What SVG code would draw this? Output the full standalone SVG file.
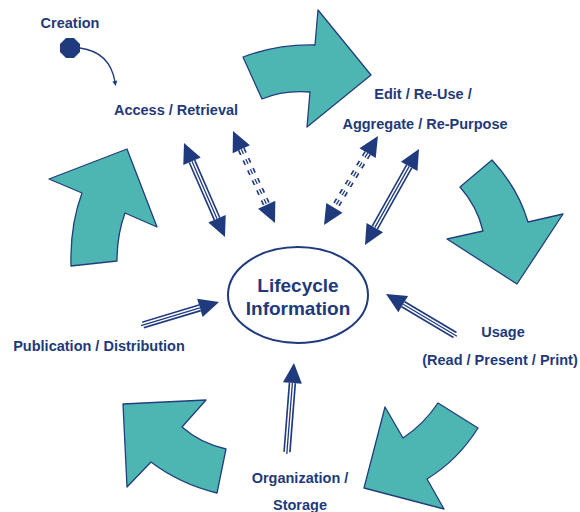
<svg xmlns="http://www.w3.org/2000/svg" width="580" height="512" viewBox="0 0 580 512">
<style>
.lbl{font-family:"Liberation Sans",Arial,sans-serif;font-weight:bold;font-size:14.5px;fill:#1F3A7A;text-anchor:middle}
.big{font-size:19px}
.teal{fill:#4DB6B3;stroke:#233E7C;stroke-width:1.3;stroke-linejoin:round}
.o{fill:none;stroke:#1F3A7D;stroke-width:7.5}
.w{fill:none;stroke:#ffffff;stroke-width:4.2}
.c{fill:none;stroke:#1F3A7D;stroke-width:1.3}
.d{stroke-dasharray:5 6}
</style>
<defs>
<marker id="ah" markerUnits="userSpaceOnUse" markerWidth="24" markerHeight="24" refX="0" refY="0" orient="auto-start-reverse" overflow="visible">
<path d="M0,-9.5 L20,0 L0,9.5 Z" fill="#1F3A7D"/>
</marker>
<marker id="sm" markerUnits="userSpaceOnUse" markerWidth="8" markerHeight="8" refX="0" refY="0" orient="auto" overflow="visible">
<path d="M-1,-2.5 L4,0 L-1,2.5 Z" fill="#1F3A7D"/>
</marker>
</defs>
<rect width="580" height="512" fill="#ffffff"/>

<g id="cycle-arrows">
<path class="teal" d="M243,57 Q278,44 315,45 L318,10 L371,75 L307,127 L310,92 Q283,90 262,99 Z"/>
<path class="teal" d="M460,187 L492,160 Q518,188 528,222 L563,214 L517,284 L447,239 L483,231 Q477,206 460,187 Z"/>
<path class="teal" d="M438,403 L478,428 Q458,460 427,479 L444,509 L364,488 L385,407 L403,438 Q424,424 438,403 Z"/>
<path class="teal" d="M123,404 L206,400 L182,427 Q200,443 226,449 L217,493 Q180,484 151,462 L127,487 Z"/>
<path class="teal" d="M49,179 L127,149 L157,227 L125,213 Q117,235 117,261 L71,266 Q70,225 82,193 Z"/>
</g>

<g id="connectors">
<path d="M80,48 Q110,52 115,82" fill="none" stroke="#1F3A7D" stroke-width="1.3" marker-end="url(#sm)"/>
<path class="o" d="M192,161.3 L217,218.7" marker-start="url(#ah)" marker-end="url(#ah)"/>
<path class="w" d="M192,161.3 L217,218.7"/>
<path class="c" d="M192,161.3 L217,218.7"/>
<path class="o d" d="M241.3,149.2 L266.7,204.8" marker-start="url(#ah)" marker-end="url(#ah)"/>
<path class="w d" d="M241.3,149.2 L266.7,204.8"/>
<path class="c d" d="M241.3,149.2 L266.7,204.8"/>
<path class="o d" d="M367.6,153.1 L334.4,207.9" marker-start="url(#ah)" marker-end="url(#ah)"/>
<path class="w d" d="M367.6,153.1 L334.4,207.9"/>
<path class="c d" d="M367.6,153.1 L334.4,207.9"/>
<path class="o" d="M409.2,166.4 L374.8,227.6" marker-start="url(#ah)" marker-end="url(#ah)"/>
<path class="w" d="M409.2,166.4 L374.8,227.6"/>
<path class="c" d="M409.2,166.4 L374.8,227.6"/>
<path class="o" d="M143,325 L199.9,307.8" marker-end="url(#ah)"/>
<path class="w" d="M141,325.6 L199.9,307.8"/>
<path class="c" d="M141,325.6 L199.9,307.8"/>
<path class="o" d="M455,335 L403.2,304.2" marker-end="url(#ah)"/>
<path class="w" d="M457,336.2 L403.2,304.2"/>
<path class="c" d="M457,336.2 L403.2,304.2"/>
<path class="o" d="M287,452 L292.4,382.9" marker-end="url(#ah)"/>
<path class="w" d="M286.8,454 L292.4,382.9"/>
<path class="c" d="M286.8,454 L292.4,382.9"/>
</g>

<g id="creation">
<polygon points="74,38 80,44 80,52 74,58 66,58 60,52 60,44 66,38" fill="#1F3A7D"/>
<text class="lbl" x="70" y="28">Creation</text>
</g>

<g id="lifecycle">
<ellipse cx="298" cy="295" rx="70" ry="48" fill="#ffffff" stroke="#1F3A7D" stroke-width="2"/>
<text class="lbl big" x="298" y="292">Lifecycle</text>
<text class="lbl big" x="298" y="315">Information</text>
</g>

<g id="access"><text class="lbl" x="176" y="115">Access / Retrieval</text></g>
<g id="edit">
<text class="lbl" x="423" y="99">Edit / Re-Use /</text>
<text class="lbl" x="425" y="129">Aggregate / Re-Purpose</text>
</g>
<g id="usage">
<text class="lbl" x="503" y="337">Usage</text>
<text class="lbl" x="500" y="365">(Read / Present / Print)</text>
</g>
<g id="publication"><text class="lbl" x="99" y="351">Publication / Distribution</text></g>
<g id="organization">
<text class="lbl" x="300" y="483">Organization /</text>
<text class="lbl" x="300" y="510">Storage</text>
</g>
</svg>
